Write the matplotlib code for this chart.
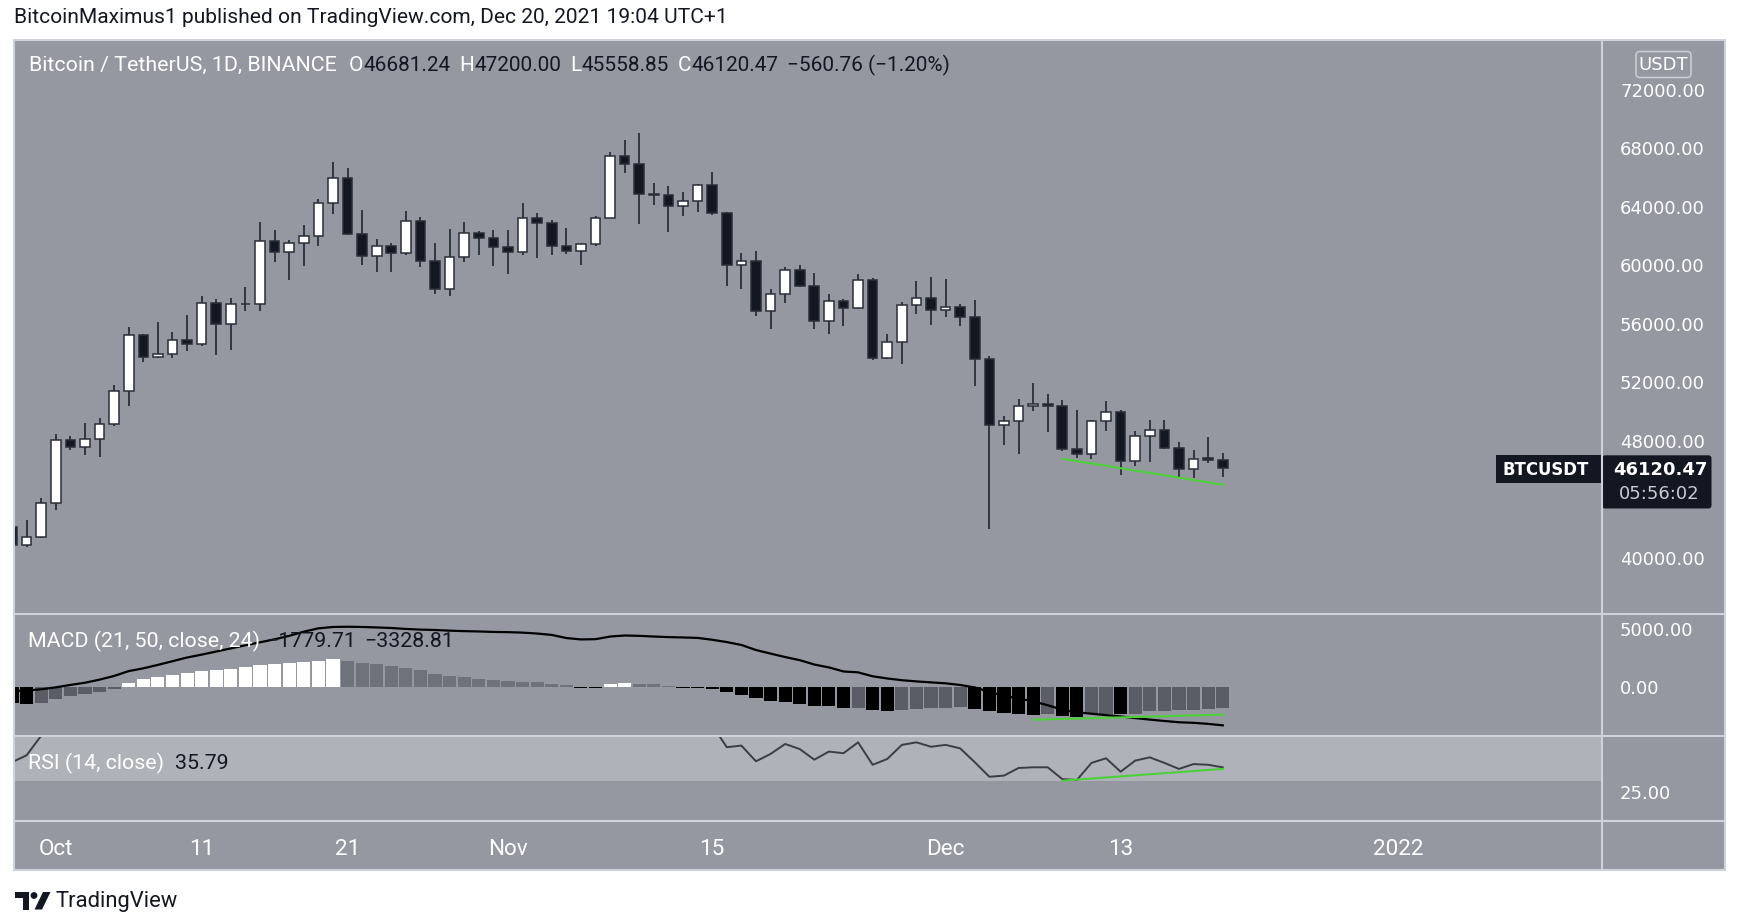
import numpy as np
import pandas as pd
import matplotlib
matplotlib.use("Agg")
import matplotlib.pyplot as plt
import matplotlib.dates as mdates
from matplotlib.patches import Rectangle, FancyBboxPatch, Polygon, Circle
from matplotlib import font_manager as fm

# ---------------- data ----------------
dates = pd.date_range("2021-09-28", "2021-12-20", freq="D")

opens = [42115, 40909, 41432, 43754, 48078, 47578, 48124, 49171, 51425, 55249,
         53724, 53929, 54907, 54634, 57411, 55977, 57343, 57330, 61668, 60871,
         61509, 61964, 64240, 65993, 62123, 60598, 61281, 60849, 63034, 60302,
         58367, 60553, 62214, 61827, 61258, 60871, 63193, 62852, 61327, 60940,
         61418, 63261, 67495, 66926, 64855, 64787, 64058, 64377, 65515, 63557,
         60029, 60280, 56842, 58026, 59688, 58595, 56205, 57525, 57070, 58959,
         53633, 54725, 57275, 57753, 56956, 57161, 56455, 53587, 49102, 49330,
         50400, 50537, 50377, 47463, 47099, 49353, 49990, 46598, 48306, 48761,
         47509, 46075, 46803, 46681.24]
highs = [42600, 42570, 44095, 48488, 48352, 49217, 49558, 51834, 55772, 55300,
         56114, 55454, 56569, 57867, 57684, 57753, 58481, 62988, 62419, 61691,
         62738, 64514, 67040, 66631, 63785, 61782, 61509, 63717, 63284, 61532,
         62488, 62966, 62328, 62419, 62419, 64240, 63535, 63057, 62556, 61509,
         63330, 67769, 68565, 69066, 65629, 65447, 64992, 65550, 66403, 63610,
         60826, 60985, 58367, 59847, 60006, 59460, 58049, 57684, 59392, 59119,
         55294, 57457, 58891, 59186, 59050, 57365, 57616, 53814, 49717, 50878,
         51948, 51219, 50810, 50081, 49444, 50742, 50127, 48647, 49444, 49444,
         47919, 47395, 48260, 47200.00]
lows = [40850, 40749, 41400, 43253, 47396, 47054, 46895, 48989, 50355, 53382,
        53655, 53655, 54111, 54452, 53883, 54225, 56842, 56842, 60188, 59005,
        59915, 61327, 63489, 62032, 60029, 59551, 59551, 60667, 59870, 58049,
        57867, 60189, 60667, 59961, 59415, 60689, 60462, 60689, 60758, 60029,
        61281, 63261, 66289, 62829, 64104, 62283, 63375, 63626, 63398, 58595,
        58367, 56501, 55636, 57411, 58504, 55636, 55317, 55864, 57002, 53496,
        53600, 53246, 56660, 55886, 56432, 55818, 51720, 41978, 47737, 47099,
        50036, 48602, 47281, 46826, 46758, 48693, 45642, 46257, 46530, 47463,
        45460, 45460, 46485, 45558.85]
closes = [40909, 41432, 43754, 48078, 47578, 48124, 49171, 51425, 55249, 53724,
          53929, 54907, 54634, 57411, 55977, 57343, 57330, 61668, 60871, 61509,
          61964, 64240, 65993, 62123, 60598, 61281, 60849, 63034, 60302, 58367,
          60553, 62214, 61827, 61258, 60871, 63193, 62852, 61327, 60940, 61418,
          63261, 67495, 66926, 64855, 64787, 64058, 64377, 65515, 63557, 60029,
          60280, 56842, 58026, 59688, 58595, 56205, 57525, 57070, 58959, 53633,
          54725, 57275, 57753, 56956, 57161, 56455, 53587, 49102, 49330, 50400,
          50537, 50377, 47463, 47099, 49353, 49990, 46598, 48306, 48761, 47509,
          46075, 46781, 46681, 46120.47]

macd_hist = [-1400, -1450, -1390, -1070, -810, -580, -434, -174,
             376, 666, 868, 1070, 1186, 1390, 1505, 1590, 1707, 1880, 1996, 2083,
             2170, 2286, 2401,
             2286, 2083, 1968, 1794, 1678, 1447, 1157, 984, 868, 723, 637, 521,
             463, 434, 260, 145,
             -90, -100, 260, 350, 230, 220, 115, -80, -90,
             -200, -460, -665, -955, -1186, -1300, -1475, -1678, -1690, -1823,
             -1794, -1996, -2112, -1968, -1880, -1823, -1810, -1765,
             -1880, -2083, -2286, -2372, -2390, -2360, -2488, -2604, -2372, -2315,
             -2372, -2315, -2083, -2070, -2025, -1968, -1910, -1779.71]
macd_line = [-350, -300, -200, -30, 180, 370, 640, 960, 1380, 1620,
             1920, 2240, 2560, 2810, 3080, 3350, 3620, 3880, 4140, 4440,
             4800, 5090, 5210, 5230, 5210, 5170, 5120, 5040, 4980, 4950,
             4890, 4850, 4820, 4780, 4760, 4720, 4640, 4520, 4250, 4130,
             4150, 4380, 4470, 4440, 4380, 4330, 4300, 4260, 4100, 3900,
             3650, 3210, 2900, 2600, 2330, 1950, 1700, 1350, 1270, 930,
             740, 590, 485, 400, 320, 175, -40, -420, -760, -990,
             -1250, -1580, -1980, -2190, -2320, -2440, -2560, -2700, -2830, -2950,
             -3060, -3110, -3200, -3328.81]
rsi = [38, 41, 49.5, 68, 66, 68, 70, 75, 80, 76,
       76, 78, 77, 80, 72, 75, 75, 80, 77, 78,
       79, 82, 83, 70, 65, 67, 64, 68, 62, 57,
       61, 64, 63, 61, 60, 65, 64, 61, 60, 61,
       65, 72, 69, 62, 62, 60, 61, 63, 54, 44.5,
       45.2, 38.4, 41.6, 45.9, 43.7, 39.1, 42.6, 41.9, 46.6, 36.9,
       39.4, 45.5, 46.6, 44.7, 45.5, 44.0, 38.0, 31.7, 32.2, 35.5,
       35.8, 35.8, 30.7, 30.3, 37.7, 39.7, 33.9, 38.7, 40.1, 37.7,
       35.1, 37.2, 36.9, 35.79]

price_ticks = [40000, 48000, 52000, 56000, 60000, 64000, 68000, 72000]
macd_ticks = [0, 5000]
rsi_ticks = [25]
time_ticks = ["2021-10-01", "2021-10-11", "2021-10-21", "2021-11-01",
              "2021-11-15", "2021-12-01", "2021-12-13", "2022-01-01"]
time_labels = ["Oct", "11", "21", "Nov", "15", "Dec", "13", "2022"]

legend_ohlc = [("O", "46681.24"), ("H", "47200.00"), ("L", "45558.85"), ("C", "46120.47")]
legend_change = "\u2212560.76 (\u22121.20%)"
macd_values = ["\u22121779.71", "\u22123328.81"]
rsi_value = "35.79"

price_div_dates = ["2021-12-09", "2021-12-20"]
price_div_vals = [46780, 45005]
macd_div_dates = ["2021-12-07", "2021-12-20"]
macd_div_vals = [-2840, -2400]
rsi_div_dates = ["2021-12-09", "2021-12-20"]
rsi_div_vals = [30.0, 35.1]

# ---------------- style ----------------
BG = "#9598a1"
FRAME = "#cfd2d8"
DARK = "#131722"
WICK = "#2a2e39"
WHITE = "#ffffff"
GREEN = "#4cd137"
POS_GROW, POS_FALL, NEG_RISE, NEG_FALL = "#ffffff", "#6f727b", "#5a5d65", "#000000"


def pick(*names):
    for n in names:
        try:
            fm.findfont(fm.FontProperties(family=n), fallback_to_default=False)
            return n
        except Exception:
            pass
    return "DejaVu Sans"


UI = pick("Roboto", "Lato", "DejaVu Sans")
NUM = pick("DejaVu Sans")

W, H = 1737, 921
fig = plt.figure(figsize=(W / 100, H / 100), dpi=100)
R = fig.canvas.get_renderer()


def box(x0, y0, x1, y1):
    return [x0 / W, 1 - y1 / H, (x1 - x0) / W, (y1 - y0) / H]


def fit(s, target, family, weight="normal", base=12.0):
    t = fig.text(0, 0, s, fontsize=base, family=family, weight=weight)
    w = t.get_window_extent(R).width
    t.remove()
    return base * target / w


S_HEAD = fit("BitcoinMaximus1 published on TradingView.com, Dec 20, 2021 19:04 UTC+1", 709, UI)
S_UI = fit("Bitcoin / TetherUS, 1D, BINANCE", 307, UI)
S_NUM = fit("72000.00", 85, NUM)

# background
bg = fig.add_axes([0, 0, 1, 1], zorder=0)
bg.set_xlim(0, W)
bg.set_ylim(H, 0)
bg.axis("off")
bg.add_patch(Rectangle((14.4, 39.9), 1710.4, 829.7, facecolor=BG, edgecolor="none"))

x = mdates.date2num(dates)
x_oct1 = mdates.date2num(pd.Timestamp("2021-10-01"))
XL = (x_oct1 - 2.838, x_oct1 + 106.0)

o = np.array(opens, float)
h = np.array(highs, float)
l = np.array(lows, float)
c = np.array(closes, float)

# ---------------- price pane ----------------
ax_p = fig.add_axes(box(14.4, 39.9, 1602, 613.7), zorder=2)
ax_p.set_facecolor("none")
ax_p.set_xlim(*XL)
ax_p.set_ylim(36195, 75394)
ax_p.vlines(x, l, h, color=WICK, lw=1.3, zorder=1)
up = c >= o
body_bottom = np.minimum(o, c)
body_h = np.maximum(np.abs(c - o), 30)
ax_p.bar(x, body_h, bottom=body_bottom, width=0.66,
         color=np.where(up, WHITE, DARK), edgecolor=WICK, linewidth=1.1, zorder=2)
ax_p.plot(mdates.date2num(pd.to_datetime(price_div_dates)), price_div_vals,
          color=GREEN, lw=1.5, zorder=3)

# ---------------- MACD pane ----------------
ax_m = fig.add_axes(box(14.4, 613.7, 1602, 735.6), zorder=2)
ax_m.set_facecolor("none")
ax_m.set_xlim(*XL)
mh = np.array(macd_hist, float)
prev = np.r_[mh[0], mh[:-1]]
cols = np.where(mh >= 0, np.where(mh > prev, POS_GROW, POS_FALL),
                np.where(mh > prev, NEG_RISE, NEG_FALL))
ax_m.set_ylim((687.0 - 735.6) * 86.8, (687.0 - 613.7) * 86.8)
ax_m.bar(x, mh, width=0.9, color=cols, zorder=1)
ax_m.plot(x, macd_line, color="#000000", lw=1.6, zorder=2)
ax_m.plot(mdates.date2num(pd.to_datetime(macd_div_dates)), macd_div_vals,
          color=GREEN, lw=1.5, zorder=3)

# ---------------- RSI pane ----------------
ax_r = fig.add_axes(box(14.4, 735.6, 1602, 820.9), zorder=2)
ax_r.set_facecolor("none")
ax_r.set_xlim(*XL)
ax_r.set_ylim(30 - (820.9 - 780.7) / 2.31, 30 + (780.7 - 735.6) / 2.31)
ax_r.axhspan(30, 70, color="#afb2b9", zorder=0, lw=0)
ax_r.plot(x, rsi, color="#3b3d43", lw=1.4, zorder=2)
ax_r.plot(mdates.date2num(pd.to_datetime(rsi_div_dates)), rsi_div_vals,
          color=GREEN, lw=1.5, zorder=3)

for a in (ax_p, ax_m, ax_r):
    for s in a.spines.values():
        s.set_visible(False)
    a.yaxis.tick_right()
    a.tick_params(axis="y", length=0, pad=13, labelcolor=WHITE, labelsize=S_NUM)
    a.tick_params(axis="x", length=0)
    a.set_xticks([])

ax_p.set_yticks(price_ticks)
ax_p.set_yticklabels([f"{v:.2f}" for v in price_ticks], family=NUM)
ax_m.set_yticks(macd_ticks)
ax_m.set_yticklabels([f"{v:.2f}" for v in macd_ticks], family=NUM)
ax_r.set_yticks(rsi_ticks)
ax_r.set_yticklabels([f"{v:.2f}" for v in rsi_ticks], family=NUM)
ax_r.set_xticks(mdates.date2num(pd.to_datetime(time_ticks)))
ax_r.set_xticklabels(time_labels, family=UI)
ax_r.tick_params(axis="x", length=0, pad=13, labelcolor=WHITE, labelsize=S_UI * 1.05)

# ---------------- overlay ----------------
ov = fig.add_axes([0, 0, 1, 1], zorder=10)
ov.set_xlim(0, W)
ov.set_ylim(H, 0)
ov.axis("off")
ov.patch.set_alpha(0)

ov.add_patch(Rectangle((14.4, 39.9), 1710.4, 829.7, facecolor="none", edgecolor=FRAME, lw=1.5))
for yy in (613.7, 735.6, 820.9):
    ov.plot([14.4, 1724.8], [yy, yy], color=FRAME, lw=1.5)
ov.plot([1602, 1602], [39.9, 869.6], color=FRAME, lw=1.5)


def width_of(s, size, family=UI):
    t = fig.text(0, 0, s, fontsize=size, family=family)
    w = t.get_window_extent(R).width
    t.remove()
    return w


def put(xx, yy, s, col, size, family=UI):
    ov.text(xx, yy, s, color=col, fontsize=size, family=family, va="center", ha="left")
    return xx + width_of(s, size, family)


def spread(x0, x1, yy, groups, size):
    """Lay out groups of (text, colour) pieces from x0 so that the last ends at x1."""
    widths = [sum(width_of(s, size) for s, _ in g) for g in groups]
    gap = max(6.0, (x1 - x0 - sum(widths)) / max(1, len(groups) - 1))
    xx = x0
    for g, w in zip(groups, widths):
        for s, col in g:
            xx = put(xx, yy, s, col, size)
        xx += gap


ov.text(14.4, 17.7, "BitcoinMaximus1 published on TradingView.com, Dec 20, 2021 19:04 UTC+1",
        color=DARK, fontsize=S_HEAD, family=UI, va="center", ha="left")

yT = 65.5
put(29, yT, "Bitcoin / TetherUS, 1D, BINANCE", WHITE, S_UI)
groups = [[(k, WHITE), (v, DARK)] for k, v in legend_ohlc] + [[(legend_change, DARK)]]
S_OHLC = S_UI * 0.97
spread(349, 950, yT, groups, S_OHLC)

yM = 641.5
put(28, yM, "MACD (21, 50, close, 24)", WHITE, S_UI)
spread(266, 454, yM, [[(macd_values[0], DARK)], [(macd_values[1], DARK)]], S_UI)

yR = 763.5
put(28, yR, "RSI (14, close)", WHITE, S_UI)
put(175, yR, rsi_value, DARK, S_UI)

# USDT currency box
ov.add_patch(FancyBboxPatch((1636, 51.5), 55, 26, boxstyle="round,pad=0,rounding_size=4",
                            facecolor="none", edgecolor="#c9ccd2", lw=1.2))
ov.text(1663.5, 64.5, "USDT", color=WHITE, fontsize=S_NUM, family=NUM, ha="center", va="center")

# last price labels
ov.add_patch(Rectangle((1495.5, 455.3), 106.5, 27.7, facecolor=DARK, edgecolor="none"))
ov.add_patch(FancyBboxPatch((1602, 455.3), 109.5, 53.2, boxstyle="round,pad=0,rounding_size=3",
                            facecolor=DARK, edgecolor="none"))
S_TAG = fit("BTCUSDT", 86, NUM, weight="bold")
ov.text(1503, 469.5, "BTCUSDT", color=WHITE, fontsize=S_TAG, family=NUM,
        weight="bold", ha="left", va="center")
ov.text(1613, 469.5, "46120.47", color=WHITE, fontsize=S_NUM, family=NUM,
        weight="bold", ha="left", va="center")
ov.text(1619, 493.5, "05:56:02", color="#c9ccd2", fontsize=S_NUM, family=NUM,
        ha="left", va="center")

# TradingView logo
ov.add_patch(Polygon([(14.5, 892), (29, 892), (29, 909.5), (22.5, 909.5), (22.5, 898), (14.5, 898)],
                     closed=True, facecolor=DARK, edgecolor="none"))
ov.add_patch(Circle((34, 895.5), 3.4, facecolor=DARK, edgecolor="none"))
ov.add_patch(Polygon([(43, 892), (50.5, 892), (42, 909.5), (34.5, 909.5)],
                     closed=True, facecolor=DARK, edgecolor="none"))
S_LOGO = fit("TradingView", 122, UI)
ov.text(55, 901, "TradingView", color=DARK, fontsize=S_LOGO, family=UI, ha="left", va="center")

fig.savefig("out.png", dpi=100)
